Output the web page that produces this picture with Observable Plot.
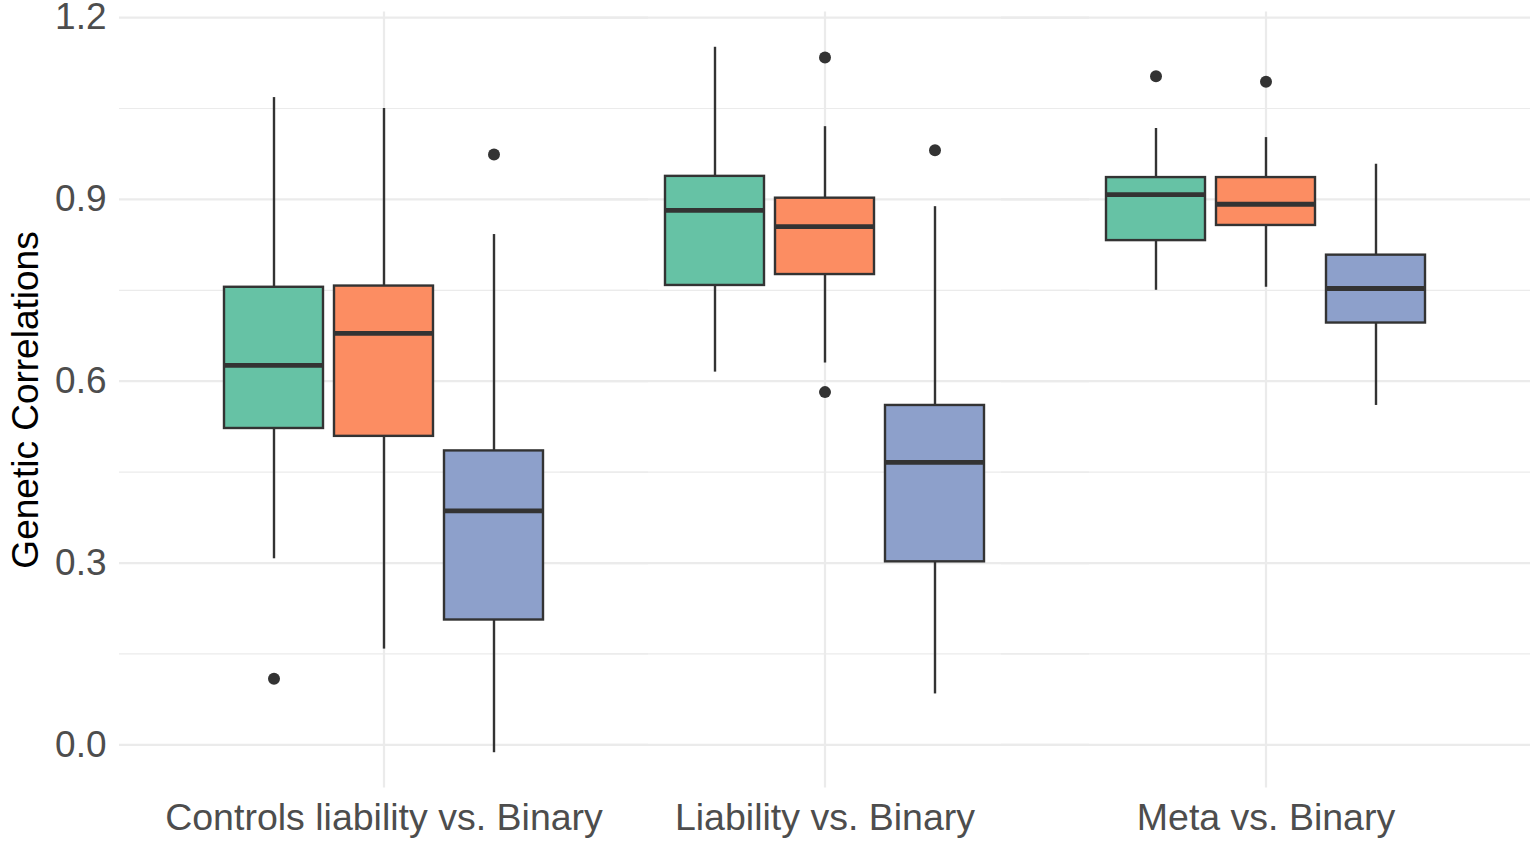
<!DOCTYPE html>
<html><head><meta charset="utf-8">
<script src="https://cdn.jsdelivr.net/npm/d3@7"></script>
<script src="https://cdn.jsdelivr.net/npm/@observablehq/plot@0.6"></script>
<style>
html,body{margin:0;padding:0;background:#fff;overflow:hidden;}
#chart svg{display:block;}
#chart g[aria-label="y-axis label"] text, #chart g[aria-label="y-axis label"]{fill:#000;}
#chart g[aria-label="fx-axis tick label"] text, #chart g[aria-label="fx-axis tick label"]{font-size:37.5px;}
</style></head><body><div id="chart"></div>
<script>
// Groups on the x axis
const groups = ["Controls liability vs. Binary", "Liability vs. Binary", "Meta vs. Binary"];
// Three series (dodged boxes) per group
const series = ["Series 1", "Series 2", "Series 3"];
const seriesColors = ["#66c2a5", "#fc8d62", "#8da0cb"];
// Box statistics, group-major order
const boxGroup  = [groups[0], groups[0], groups[0], groups[1], groups[1], groups[1], groups[2], groups[2], groups[2]];
const boxSeries = [series[0], series[1], series[2], series[0], series[1], series[2], series[0], series[1], series[2]];
const lowerWhisker = [0.307, 0.158, -0.013, 0.615, 0.630, 0.084, 0.750, 0.755, 0.560];
const q1Values     = [0.522, 0.509, 0.206, 0.758, 0.776, 0.302, 0.832, 0.857, 0.696];
const medianValues = [0.626, 0.679, 0.386, 0.882, 0.855, 0.466, 0.908, 0.892, 0.753];
const q3Values     = [0.755, 0.757, 0.485, 0.938, 0.902, 0.560, 0.936, 0.936, 0.808];
const upperWhisker = [1.068, 1.050, 0.842, 1.151, 1.020, 0.888, 1.017, 1.002, 0.958];
// Outliers
const outlierGroup  = [groups[0], groups[0], groups[1], groups[1], groups[1], groups[2], groups[2]];
const outlierSeries = [series[0], series[2], series[1], series[1], series[2], series[0], series[1]];
const outlierValue  = [0.109, 0.974, 1.134, 0.582, 0.981, 1.103, 1.094];
// Axis ticks
const yTicks = [0, 0.3, 0.6, 0.9, 1.2];
const yMinorTicks = [0.15, 0.45, 0.75, 1.05];

const boxes = boxGroup.map((g, i) => ({
  group: g, series: boxSeries[i], lower: lowerWhisker[i], q1: q1Values[i],
  median: medianValues[i], q3: q3Values[i], upper: upperWhisker[i]
}));
const outliers = outlierGroup.map((g, i) => ({group: g, series: outlierSeries[i], value: outlierValue[i]}));

// ggplot-style 5% expansion of the data range
const allVals = lowerWhisker.concat(upperWhisker, outlierValue);
const lo = d3.min(allVals), hi = d3.max(allVals), pad = (hi - lo) * 0.05;

const ink = "#333333";
const gridColor = "#ebebeb";
const ext = 44; // half-unit gap beyond outer facets

const chart = Plot.plot({
  width: 1535,
  height: 846,
  marginLeft: 162,
  marginRight: 49,
  marginTop: 11.5,
  marginBottom: 58.5,
  style: {fontFamily: "'Liberation Sans', Arial, Helvetica, sans-serif", fontSize: "37px", color: "#4d4d4d", background: "#fff"},
  fx: {domain: groups, padding: 0, axis: "bottom", tickSize: 0, tickPadding: 15, label: null},
  x: {domain: series, paddingInner: 0.1, paddingOuter: 0.55, axis: null},
  y: {domain: [lo - pad, hi + pad], ticks: yTicks, tickFormat: d3.format(".1f"), tickSize: 0, tickPadding: 57,
      label: "Genetic Correlations", labelArrow: "none", labelAnchor: "center", labelOffset: 152},
  color: {domain: series, range: seriesColors},
  marks: [
    Plot.ruleY(yMinorTicks, {y: d => d, stroke: gridColor, strokeWidth: 1.2, insetLeft: -ext, insetRight: -ext}),
    Plot.ruleY(yTicks, {y: d => d, stroke: gridColor, strokeWidth: 2.2, insetLeft: -ext, insetRight: -ext}),
    Plot.ruleX([series[1]], {x: d => d, stroke: gridColor, strokeWidth: 2.2}),
    Plot.ruleX(boxes, {fx: "group", x: "series", y1: "q3", y2: "upper", stroke: ink, strokeWidth: 2.4}),
    Plot.ruleX(boxes, {fx: "group", x: "series", y1: "lower", y2: "q1", stroke: ink, strokeWidth: 2.4}),
    Plot.barY(boxes, {fx: "group", x: "series", y1: "q1", y2: "q3", fill: "series", stroke: ink, strokeWidth: 2.4}),
    Plot.tickY(boxes, {fx: "group", x: "series", y: "median", stroke: ink, strokeWidth: 4.8}),
    Plot.dot(outliers, {fx: "group", x: "series", y: "value", r: 6, fill: ink, stroke: null})
  ]
});
document.getElementById("chart").appendChild(chart);
</script>
</body></html>
